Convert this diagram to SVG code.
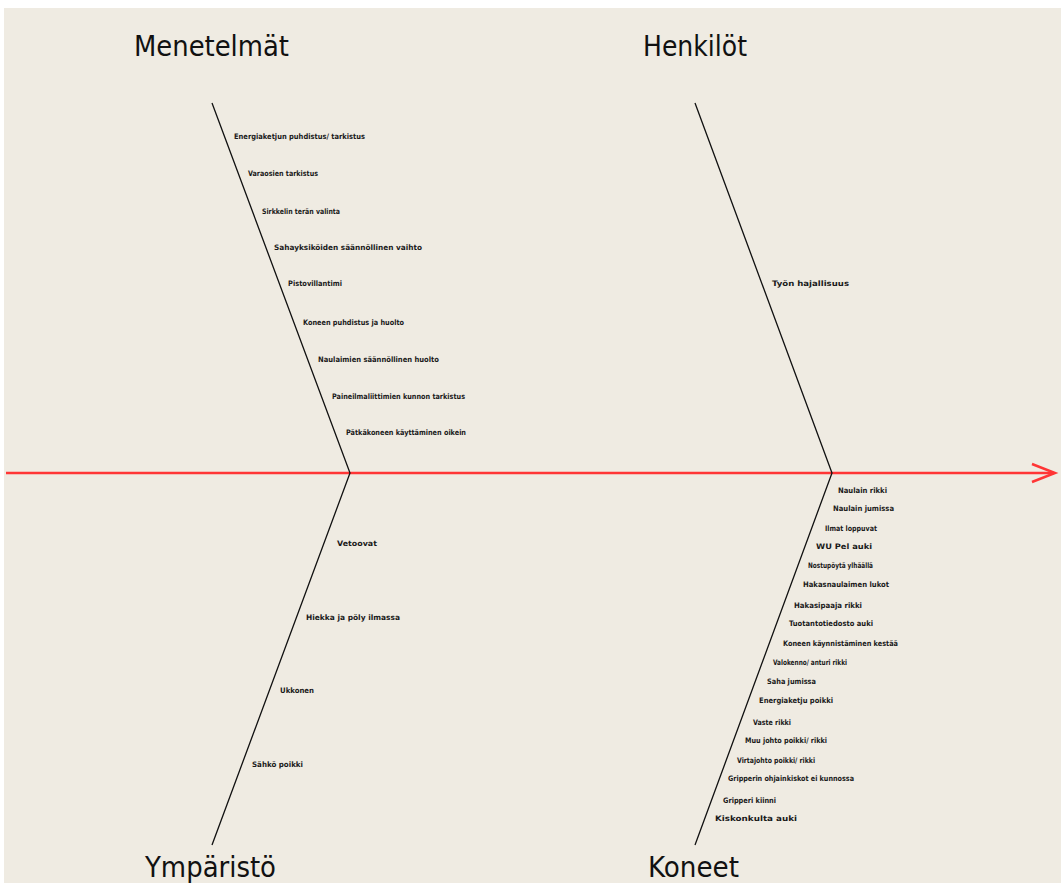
<svg xmlns="http://www.w3.org/2000/svg" width="1061" height="883" viewBox="0 0 1061 883">
  <style>
    .title { font-family: "DejaVu Sans Condensed", "DejaVu Sans", sans-serif; font-size: 28px; fill: #111; }
    .cause { font-family: "DejaVu Sans Condensed", "DejaVu Sans", sans-serif; font-size: 7.5px; font-weight: bold; fill: #1a1a1a; dominant-baseline: central; }
    .bone { stroke: #111; stroke-width: 1.3; fill: none; }
    .spine { stroke: #ff3535; stroke-width: 2.5; fill: none; }
  </style>

  <!-- page -->
  <rect x="0" y="0" width="1061" height="883" fill="#ffffff"/>
  <rect x="4" y="8" width="1057" height="875" fill="#efebe2"/>

  <!-- connectors: spine and bones -->
  <g id="connectors">
    <line class="spine" x1="6" y1="473" x2="1054" y2="473"/>
    <path class="spine" d="M1032,464 L1055,473 L1032,482" stroke-linejoin="miter"/>
    <polyline class="bone" points="212,103 350,473 212,845"/>
    <polyline class="bone" points="695,103 832,473 695,845"/>
  </g>

  <!-- Methods -->
  <g id="menetelmat">
    <text class="title" x="134" y="56" textLength="155" lengthAdjust="spacingAndGlyphs">Menetelmät</text>
    <text class="cause" x="234" y="136" textLength="131" lengthAdjust="spacingAndGlyphs">Energiaketjun puhdistus/ tarkistus</text>
    <text class="cause" x="248" y="173" textLength="70" lengthAdjust="spacingAndGlyphs">Varaosien tarkistus</text>
    <text class="cause" x="262" y="211" textLength="78" lengthAdjust="spacingAndGlyphs">Sirkkelin terän valinta</text>
    <text class="cause" x="274" y="247" textLength="148" lengthAdjust="spacingAndGlyphs">Sahayksiköiden säännöllinen vaihto</text>
    <text class="cause" x="288" y="283" textLength="54" lengthAdjust="spacingAndGlyphs">Pistovillantimi</text>
    <text class="cause" x="303" y="322" textLength="101" lengthAdjust="spacingAndGlyphs">Koneen puhdistus ja huolto</text>
    <text class="cause" x="318" y="359" textLength="121" lengthAdjust="spacingAndGlyphs">Naulaimien säännöllinen huolto</text>
    <text class="cause" x="332" y="396" textLength="133" lengthAdjust="spacingAndGlyphs">Paineilmaliittimien kunnon tarkistus</text>
    <text class="cause" x="346" y="432" textLength="120" lengthAdjust="spacingAndGlyphs">Pätkäkoneen käyttäminen oikein</text>
  </g>

  <!-- People -->
  <g id="henkilot">
    <text class="title" x="643" y="56" textLength="104" lengthAdjust="spacingAndGlyphs">Henkilöt</text>
    <text class="cause" x="772" y="283" textLength="77" lengthAdjust="spacingAndGlyphs">Työn hajallisuus</text>
  </g>

  <!-- Environment -->
  <g id="ymparisto">
    <text class="title" x="145" y="877" textLength="131" lengthAdjust="spacingAndGlyphs">Ympäristö</text>
    <text class="cause" x="337" y="543" textLength="40" lengthAdjust="spacingAndGlyphs">Vetoovat</text>
    <text class="cause" x="306" y="617" textLength="94" lengthAdjust="spacingAndGlyphs">Hiekka ja pöly ilmassa</text>
    <text class="cause" x="280" y="690" textLength="34" lengthAdjust="spacingAndGlyphs">Ukkonen</text>
    <text class="cause" x="252" y="764" textLength="51" lengthAdjust="spacingAndGlyphs">Sähkö poikki</text>
  </g>

  <!-- Machines -->
  <g id="koneet">
    <text class="title" x="648" y="877" textLength="91" lengthAdjust="spacingAndGlyphs">Koneet</text>
    <text class="cause" x="838" y="490" textLength="49" lengthAdjust="spacingAndGlyphs">Naulain rikki</text>
    <text class="cause" x="833" y="508" textLength="61" lengthAdjust="spacingAndGlyphs">Naulain jumissa</text>
    <text class="cause" x="825" y="528" textLength="52" lengthAdjust="spacingAndGlyphs">Ilmat loppuvat</text>
    <text class="cause" x="816" y="546" textLength="56" lengthAdjust="spacingAndGlyphs">WU Pel auki</text>
    <text class="cause" x="808" y="565" textLength="65" lengthAdjust="spacingAndGlyphs">Nostupöytä ylhäällä</text>
    <text class="cause" x="803" y="584" textLength="86" lengthAdjust="spacingAndGlyphs">Hakasnaulaimen lukot</text>
    <text class="cause" x="794" y="605" textLength="68" lengthAdjust="spacingAndGlyphs">Hakasipaaja rikki</text>
    <text class="cause" x="789" y="623" textLength="84" lengthAdjust="spacingAndGlyphs">Tuotantotiedosto auki</text>
    <text class="cause" x="783" y="643" textLength="115" lengthAdjust="spacingAndGlyphs">Koneen käynnistäminen kestää</text>
    <text class="cause" x="773" y="662" textLength="74" lengthAdjust="spacingAndGlyphs">Valokenno/ anturi rikki</text>
    <text class="cause" x="767" y="681" textLength="49" lengthAdjust="spacingAndGlyphs">Saha jumissa</text>
    <text class="cause" x="759" y="700" textLength="74" lengthAdjust="spacingAndGlyphs">Energiaketju poikki</text>
    <text class="cause" x="753" y="722" textLength="38" lengthAdjust="spacingAndGlyphs">Vaste rikki</text>
    <text class="cause" x="745" y="740" textLength="82" lengthAdjust="spacingAndGlyphs">Muu johto poikki/ rikki</text>
    <text class="cause" x="737" y="760" textLength="78" lengthAdjust="spacingAndGlyphs">Virtajohto poikki/ rikki</text>
    <text class="cause" x="728" y="778" textLength="126" lengthAdjust="spacingAndGlyphs">Gripperin ohjainkiskot ei kunnossa</text>
    <text class="cause" x="723" y="800" textLength="53" lengthAdjust="spacingAndGlyphs">Gripperi kiinni</text>
    <text class="cause" x="715" y="818" textLength="82" lengthAdjust="spacingAndGlyphs">Kiskonkulta auki</text>
  </g>
</svg>
